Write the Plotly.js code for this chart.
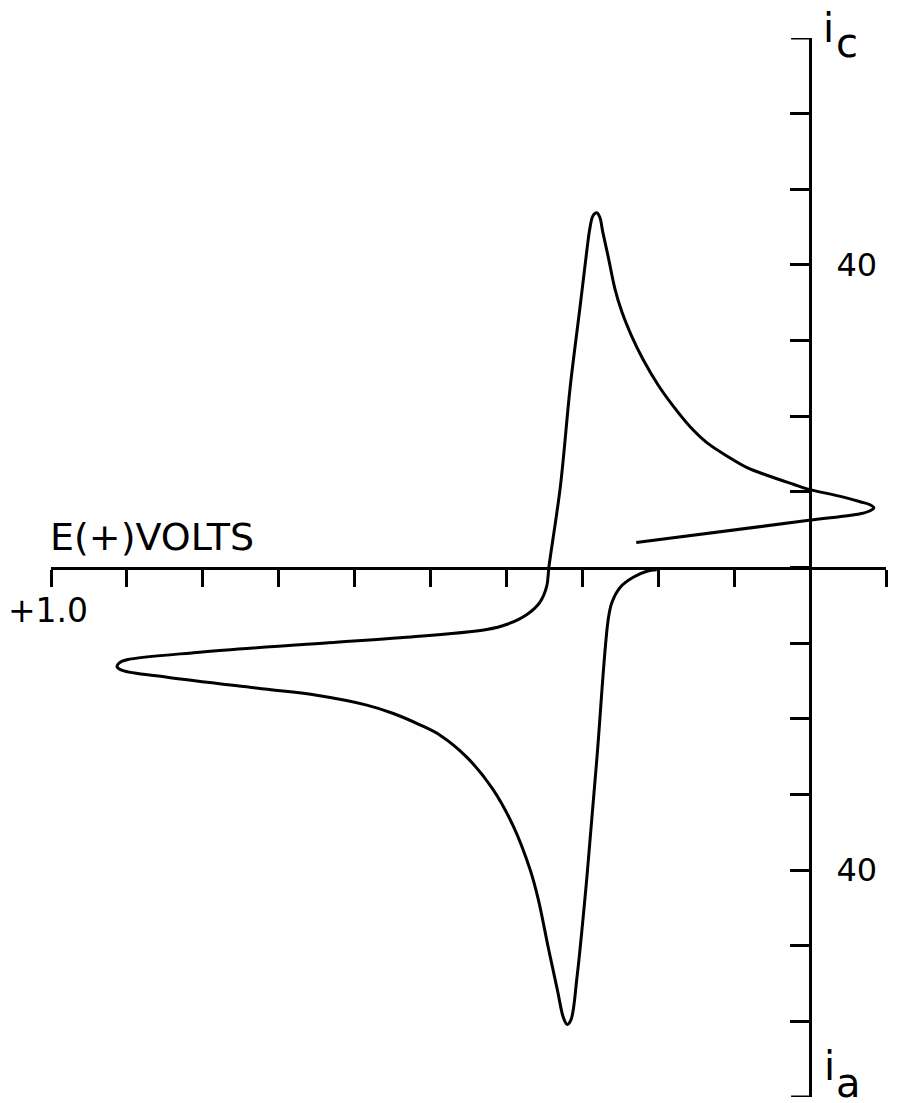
<!DOCTYPE html>
<html>
<head>
<meta charset="utf-8">
<script src="https://cdn.plot.ly/plotly-3.0.1.min.js"></script>
<style>
  body { margin: 0; background: #ffffff; }
  #graphs-div { width: 900px; height: 1103px; }
</style>
</head>
<body>
<div id="graphs-div"></div>
<script>
// Potential in volts (axis runs from +1.0 on the left to -0.1 on the right)
var potential = [
    0.229, 0.004, -0.066, -0.079, -0.084, -0.079, -0.066, -0.040, 0.004, 0.022,
    0.057, 0.083, 0.109, 0.136, 0.158, 0.180, 0.200, 0.220, 0.236, 0.248,
    0.257, 0.266, 0.273, 0.277, 0.281, 0.286, 0.290, 0.294, 0.303, 0.316,
    0.329, 0.344, 0.347, 0.356, 0.373, 0.399, 0.426, 0.540, 0.628, 0.804,
    0.900, 0.910, 0.913, 0.906, 0.847, 0.715, 0.650, 0.584, 0.549, 0.514,
    0.487, 0.452, 0.418, 0.391, 0.369, 0.358, 0.345, 0.333, 0.325, 0.320,
    0.315, 0.307, 0.294, 0.281, 0.266, 0.261, 0.250, 0.233, 0.215, 0.202
];

// Current, cathodic (ic) positive and anodic (ia) negative
var current = [
    3.3, 6.2, 7.1, 7.5, 7.9, 8.3, 8.7, 9.4, 10.4, 11.0,
    12.2, 13.2, 14.7, 16.5, 18.6, 21.3, 24.1, 27.5, 30.8, 33.8,
    36.8, 41.1, 44.3, 46.3, 46.9, 46.5, 44.9, 42.0, 34.5, 23.9,
    10.7, 0.1, -2.5, -4.6, -6.2, -7.5, -8.2, -9.3, -9.9, -11.2,
    -12.2, -12.6, -13.1, -13.6, -14.5, -16.1, -16.9, -18.2, -19.3, -20.8,
    -22.2, -25.1, -29.3, -34.2, -39.9, -43.9, -50.2, -55.8, -59.5, -60.4,
    -59.8, -54.1, -40.9, -25.4, -6.9, -4.6, -2.6, -1.3, -0.5, -0.3
];

// Tick positions and the few labels that are printed
var xTicks = [1.0, 0.9, 0.8, 0.7, 0.6, 0.5, 0.4, 0.3, 0.2, 0.1, 0.0, -0.1];
var xTickText = ['+1.0', '', '', '', '', '', '', '', '', '', '', ''];
var yTicks = [70, 60, 50, 40, 30, 20, 10, 0, -10, -20, -30, -40, -50, -60, -70];
var yTickText = ['', '', '', '40', '', '', '', '', '', '', '', '40', '', '', ''];
var yEnds = [70, -70];

var FONT = 'DejaVu Sans, sans-serif';

var trace = {
    x: potential,
    y: current,
    mode: 'lines',
    type: 'scatter',
    line: { color: '#000000', width: 3, shape: 'spline', smoothing: 1 },
    cliponaxis: false,
    hoverinfo: 'skip'
};

// Letter annotations for the current axis, placed in paper units
function letter(txt, x, y, anchor) {
    return {
        text: txt,
        x: x, y: y,
        xref: 'paper', yref: 'paper',
        xanchor: anchor, yanchor: 'middle',
        showarrow: false,
        font: { family: FONT, size: 40, color: '#000000' }
    };
}

// Plotly drops the inside ticks at the very ends, so draw those two caps as shapes
var caps = yEnds.map(function (v) {
    return {
        type: 'line',
        xref: 'x', yref: 'y',
        xsizemode: 'pixel', xanchor: 0,
        x0: -19, x1: 1,
        y0: v, y1: v,
        line: { color: '#000000', width: 3 }
    };
});

var layout = {
    width: 900,
    height: 1103,
    margin: { l: 51, r: 14, t: 38, b: 6 },
    paper_bgcolor: '#ffffff',
    plot_bgcolor: '#ffffff',
    showlegend: false,
    font: { family: FONT, color: '#000000' },
    xaxis: {
        range: [1.0, -0.1],
        anchor: 'free',
        position: 0.5,
        side: 'bottom',
        showline: true,
        linecolor: '#000000',
        linewidth: 3,
        ticks: 'outside',
        ticklen: 17,
        tickwidth: 3,
        tickcolor: '#000000',
        tickvals: xTicks,
        ticktext: xTickText,
        tickfont: { family: FONT, size: 33, color: '#000000' },
        ticklabelshift: 3,
        ticklabelstandoff: -4,
        showgrid: false,
        zeroline: false
    },
    yaxis: {
        range: [-70, 70],
        anchor: 'free',
        position: 1.0 / 1.1, // where E = 0 falls on the x range
        side: 'right',
        showline: true,
        linecolor: '#000000',
        linewidth: 3,
        ticks: 'inside',
        ticklen: 19,
        tickwidth: 3,
        tickcolor: '#000000',
        tickvals: yTicks,
        ticktext: yTickText,
        tickfont: { family: FONT, size: 32, color: '#000000' },
        ticklabelstandoff: 18,
        showgrid: false,
        zeroline: false
    },
    shapes: caps,
    annotations: [
        {
            text: 'E(+)VOLTS',
            x: 1.0, y: 4.0,
            xref: 'x', yref: 'y',
            xanchor: 'left', yanchor: 'middle',
            xshift: -3,
            showarrow: false,
            font: { family: FONT, size: 38, color: '#000000' }
        },
        letter('i', 0.9317, 1.0094, 'center'),
        letter('c', 0.9377, 0.9953, 'left'),
        letter('i', 0.9329, 0.0290, 'center'),
        letter('a', 0.9377, 0.0135, 'left')
    ]
};

Plotly.newPlot('graphs-div', [trace], layout, { displayModeBar: false, staticPlot: true });
</script>
</body>
</html>
